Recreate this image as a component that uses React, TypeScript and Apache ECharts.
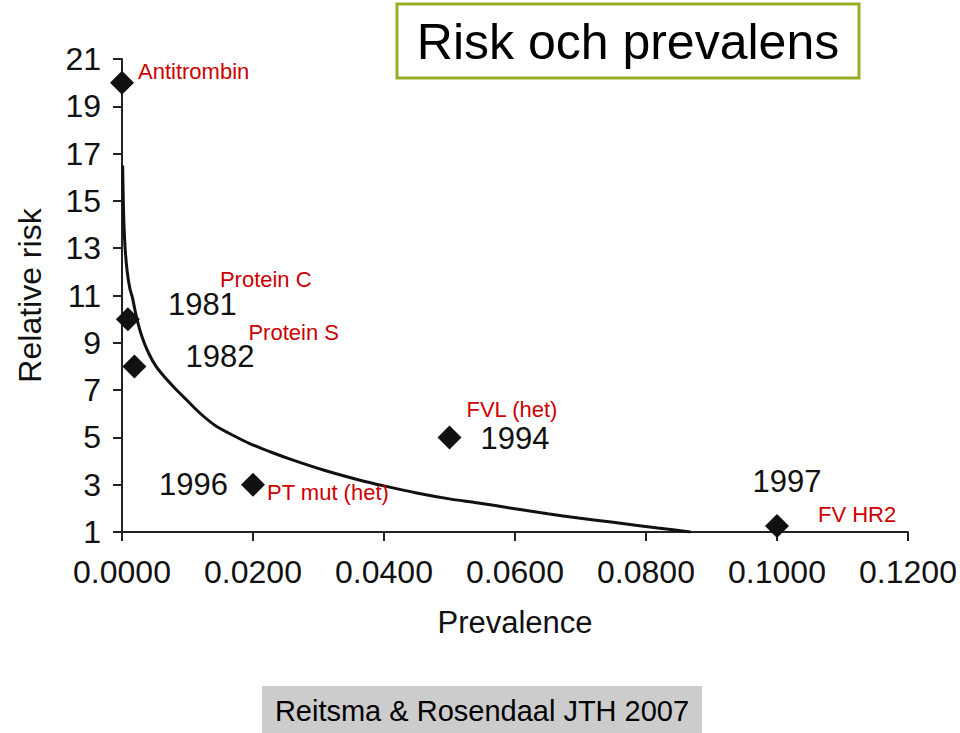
import React, { useEffect, useRef } from "react";
import * as echarts from "echarts";

// Fitted curve (prevalence, relative risk)
const curvePrev = [0.0001, 0.0002, 0.0003, 0.0005, 0.0008, 0.0012, 0.0016, 0.0022, 0.003, 0.004, 0.0052, 0.0065, 0.008, 0.0098, 0.012, 0.0144, 0.017, 0.0194, 0.023, 0.026, 0.031, 0.0362, 0.04, 0.045, 0.05, 0.0544, 0.06, 0.065, 0.0697, 0.075, 0.0818, 0.0868];
const curveRisk = [16.5, 15.0, 14.0, 12.9, 12.0, 11.3, 10.9, 10.1, 9.3, 8.6, 8.0, 7.55, 7.1, 6.6, 6.0, 5.47, 5.08, 4.75, 4.35, 4.05, 3.6, 3.2, 2.95, 2.65, 2.4, 2.23, 1.98, 1.77, 1.59, 1.41, 1.17, 1.0];

// Observed points
const pointPrev = [0.0, 0.0009, 0.0019, 0.02, 0.05, 0.1];
const pointRisk = [20, 10, 8, 3, 5, 1.25];
const pointYear = ["", "1981", "1982", "1996", "1994", "1997"];
const pointName = ["Antitrombin", "Protein C", "Protein S", "PT mut (het)", "FVL (het)", "FV HR2"];

// Axis ticks
const xTicks = [0, 0.02, 0.04, 0.06, 0.08, 0.1, 0.12];
const yTicks = [1, 3, 5, 7, 9, 11, 13, 15, 17, 19, 21];

const titleText = "Risk och prevalens";
const sourceText = "Reitsma & Rosendaal JTH 2007";

// label layout (styling only)
const yearLayout: any[] = [
  null,
  { align: "left", offset: [40, -15] },
  { align: "left", offset: [51, -10] },
  { align: "right", offset: [-25, 0] },
  { align: "left", offset: [31, 1] },
  { align: "center", offset: [10, -45] },
];
const nameLayout: any[] = [
  { align: "left", offset: [16, -11] },
  { align: "left", offset: [92, -40] },
  { align: "left", offset: [114, -34] },
  { align: "left", offset: [14, 8] },
  { align: "left", offset: [17, -28] },
  { align: "left", offset: [41, -12] },
];

const FONT = "'Liberation Sans', Arial, Helvetica, sans-serif";
const INK = "#111111";
const RED = "#cc0000";

export default function App() {
  const ref = useRef<HTMLDivElement>(null);

  useEffect(() => {
    document.body.style.margin = "0";
    if (!ref.current) return;
    const chart = echarts.init(ref.current, undefined, { renderer: "svg" });

    const curveData = curvePrev.map((p, i) => [p, curveRisk[i]]);
    const yearData = pointPrev.map((p, i) => ({
      value: [p, pointRisk[i]],
      label: yearLayout[i]
        ? {
            show: true,
            position: "inside",
            formatter: pointYear[i],
            align: yearLayout[i].align,
            verticalAlign: "middle",
            offset: yearLayout[i].offset,
            color: INK,
            fontSize: 31,
            lineHeight: 31,
            fontFamily: FONT,
          }
        : { show: false },
    }));
    const nameData = pointPrev.map((p, i) => ({
      value: [p, pointRisk[i]],
      label: {
        show: true,
        position: "inside",
        formatter: pointName[i],
        align: nameLayout[i].align,
        verticalAlign: "middle",
        offset: nameLayout[i].offset,
        color: RED,
        fontSize: 22,
        lineHeight: 22,
        fontFamily: FONT,
      },
    }));

    chart.setOption({
      animation: false,
      backgroundColor: "#ffffff",
      grid: { left: 122, right: 52, top: 59, bottom: 201, containLabel: false, outerBoundsMode: "none" },
      xAxis: {
        type: "value",
        min: xTicks[0],
        max: xTicks[xTicks.length - 1],
        interval: 0.02,
        name: "Prevalence",
        nameLocation: "middle",
        nameGap: 75,
        nameTextStyle: { fontSize: 31, color: INK, fontFamily: FONT },
        axisLine: { show: true, onZero: false, lineStyle: { color: "#222", width: 2 } },
        axisTick: { show: true, length: 9, lineStyle: { color: "#222", width: 2 } },
        axisLabel: {
          fontSize: 32,
          color: INK,
          fontFamily: FONT,
          margin: 24,
          formatter: (v: number) => v.toFixed(4),
        },
        splitLine: { show: false },
      },
      yAxis: {
        type: "value",
        min: yTicks[0],
        max: yTicks[yTicks.length - 1],
        interval: 2,
        name: "Relative risk",
        nameLocation: "middle",
        nameGap: 76,
        nameTextStyle: { fontSize: 32, color: INK, fontFamily: FONT },
        axisLine: { show: true, onZero: false, lineStyle: { color: "#222", width: 2 } },
        axisTick: { show: true, length: 9, lineStyle: { color: "#222", width: 2 } },
        axisLabel: { fontSize: 32, color: INK, fontFamily: FONT, margin: 21 },
        splitLine: { show: false },
      },
      series: [
        {
          type: "line",
          data: curveData,
          showSymbol: false,
          smooth: 0.25,
          lineStyle: { color: INK, width: 3 },
          z: 2,
        },
        {
          type: "scatter",
          data: yearData,
          symbol: "diamond",
          symbolSize: 24,
          itemStyle: { color: INK, opacity: 1 },
          z: 3,
        },
        {
          type: "scatter",
          data: nameData,
          symbol: "circle",
          symbolSize: 1,
          itemStyle: { color: "rgba(0,0,0,0)", opacity: 1 },
          z: 4,
        },
      ],
      graphic: [
        {
          type: "rect",
          shape: { x: 397, y: 4, width: 462, height: 74 },
          style: { fill: "#ffffff", stroke: "#9aab24", lineWidth: 3 },
        },
        {
          type: "text",
          x: 628,
          y: 42,
          style: {
            text: titleText,
            fontSize: 50,
            fontFamily: FONT,
            fill: "#000000",
            align: "center",
            verticalAlign: "middle",
          },
        },
        {
          type: "rect",
          shape: { x: 262, y: 686, width: 440, height: 47 },
          style: { fill: "#cccccc" },
        },
        {
          type: "text",
          x: 482,
          y: 711,
          style: {
            text: sourceText,
            fontSize: 29,
            fontFamily: FONT,
            fill: "#000000",
            align: "center",
            verticalAlign: "middle",
          },
        },
      ],
    });

    return () => chart.dispose();
  }, []);

  return <div ref={ref} style={{ width: 960, height: 733 }} />;
}
